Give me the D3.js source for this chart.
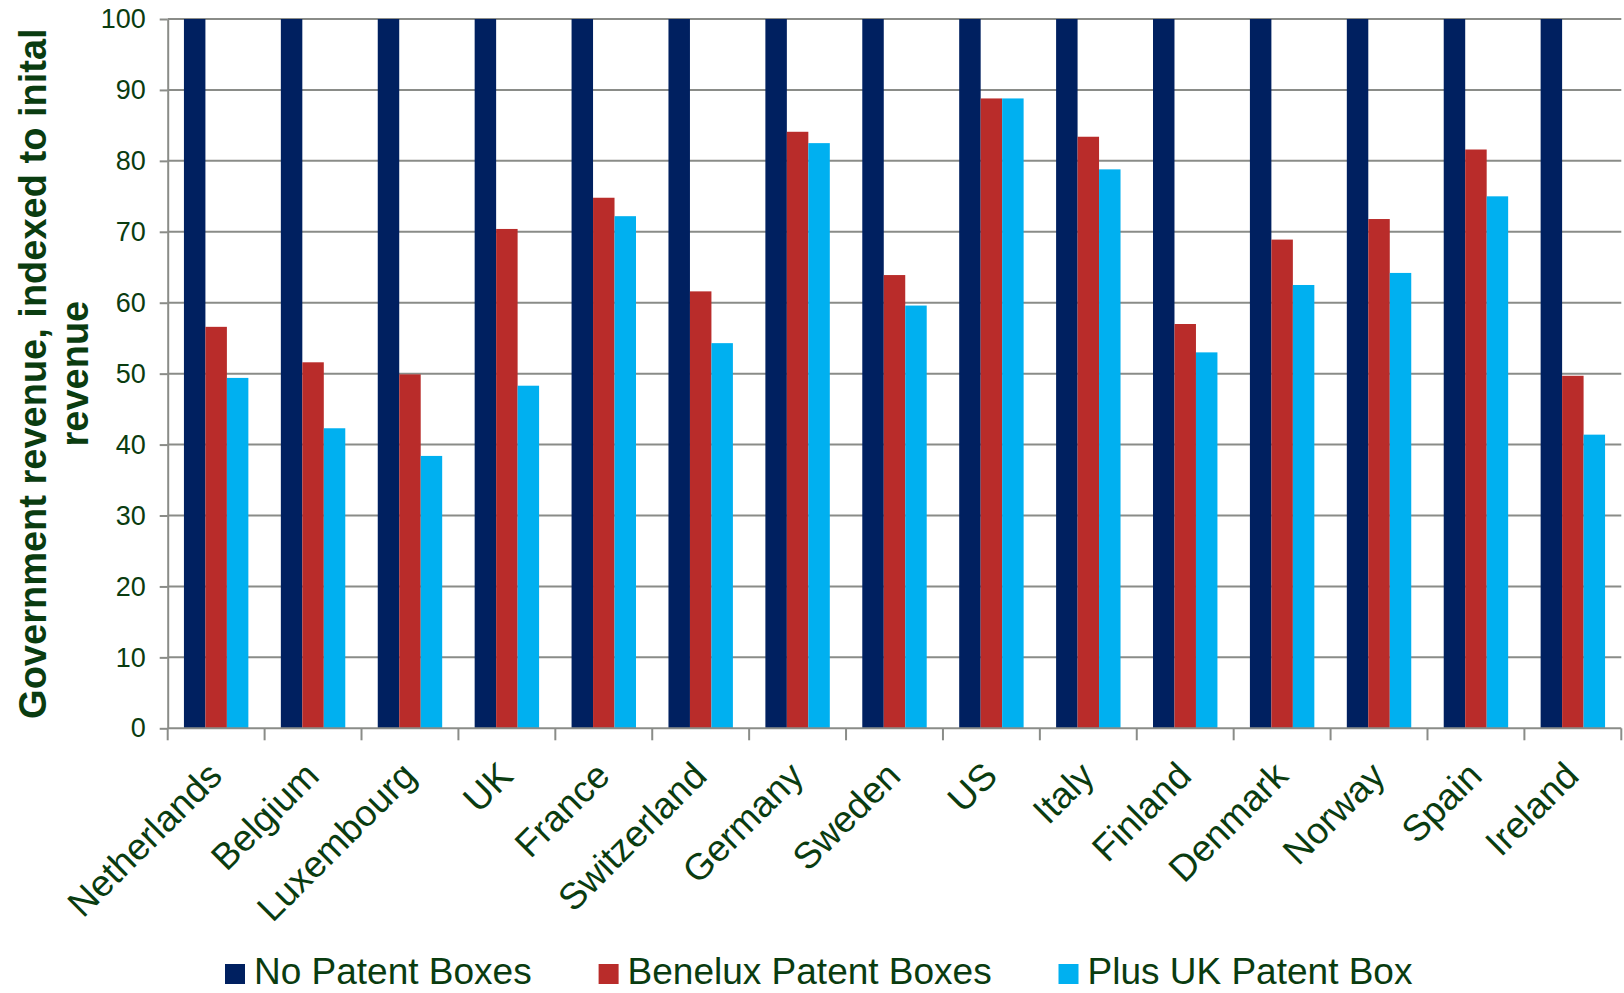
<!DOCTYPE html>
<html>
<head>
<meta charset="utf-8">
<script src="https://cdn.jsdelivr.net/npm/d3@7"></script>
<style>
  html, body { margin: 0; padding: 0; background: #fff; }
  svg { display: block; font-family: Arial, "Liberation Sans", sans-serif; }
</style>
</head>
<body>
<svg id="chart" width="1624" height="993"></svg>
<script>
// chart data
const countries = ["Netherlands", "Belgium", "Luxembourg", "UK", "France", "Switzerland", "Germany",
	"Sweden", "US", "Italy", "Finland", "Denmark", "Norway", "Spain", "Ireland"];
const seriesNames = ["No Patent Boxes", "Benelux Patent Boxes", "Plus UK Patent Box"];
const noPatentBoxes = [100, 100, 100, 100, 100, 100, 100, 100, 100, 100, 100, 100, 100, 100, 100];
const beneluxBoxes = [56.6, 51.6, 49.9, 70.4, 74.8, 61.6, 84.1, 63.9, 88.8, 83.4, 57.0, 68.9, 71.8, 81.6, 49.7];
const plusUKBox = [49.4, 42.3, 38.4, 48.3, 72.2, 54.3, 82.5, 59.6, 88.8, 78.8, 53.0, 62.5, 64.2, 75.0, 41.4];
const yTicks = [0, 10, 20, 30, 40, 50, 60, 70, 80, 90, 100];
const colors = ["#002060", "#b92c2a", "#00b0f0"];

const textColor = "#0a3c10";
const gridColor = "#8a8c88";

const rows = countries.map((c, i) => ({
	country: c,
	values: [noPatentBoxes[i], beneluxBoxes[i], plusUKBox[i]]
}));

const svg = d3.select("#chart");
const plot = { left: 167.7, right: 1621.3, top: 19, bottom: 728.3 };

const x0 = d3.scaleBand().domain(countries).range([plot.left, plot.right]).padding(0);
const x1 = d3.scaleBand().domain(d3.range(3)).range([0, x0.bandwidth()])
	.paddingInner(0).paddingOuter(0.756);
const y = d3.scaleLinear().domain([0, 100]).range([plot.bottom, plot.top]);

// gridlines
svg.append("g")
	.selectAll("line")
	.data(yTicks.filter(t => t > 0))
	.join("line")
	.attr("x1", plot.left).attr("x2", plot.right)
	.attr("y1", d => y(d)).attr("y2", d => y(d))
	.attr("stroke", gridColor).attr("stroke-width", 2);

// bars
svg.append("g")
	.selectAll("g")
	.data(rows)
	.join("g")
	.attr("transform", d => `translate(${x0(d.country)},0)`)
	.selectAll("rect")
	.data(d => d.values.map((v, i) => ({ v, i })))
	.join("rect")
	.attr("x", d => x1(d.i))
	.attr("width", x1.bandwidth())
	.attr("y", d => y(d.v))
	.attr("height", d => y(0) - y(d.v))
	.attr("fill", d => colors[d.i]);

// y axis
const yAxis = svg.append("g")
	.attr("transform", `translate(${plot.left},0)`)
	.call(d3.axisLeft(y).tickValues(yTicks).tickSize(8).tickPadding(14).tickSizeOuter(0));
yAxis.select(".domain").attr("stroke", gridColor).attr("stroke-width", 2);
yAxis.selectAll(".tick line").attr("stroke", gridColor).attr("stroke-width", 2);
yAxis.selectAll(".tick text")
	.attr("fill", textColor)
	.style("font-size", "27px")
	.style("font-family", "Arial, 'Liberation Sans', sans-serif");

// x axis line with ticks at category boundaries
const xAxis = svg.append("g");
xAxis.append("line")
	.attr("x1", plot.left).attr("x2", plot.right)
	.attr("y1", y(0)).attr("y2", y(0))
	.attr("stroke", gridColor).attr("stroke-width", 2);
xAxis.selectAll("line.bound")
	.data(countries.map(c => x0(c)).concat([x0.range()[1]]))
	.join("line")
	.attr("class", "bound")
	.attr("x1", d => d).attr("x2", d => d)
	.attr("y1", y(0)).attr("y2", y(0) + 12)
	.attr("stroke", gridColor).attr("stroke-width", 2);

xAxis.selectAll("text")
	.data(countries)
	.join("text")
	.attr("transform", d => `translate(${x0(d) + x0.bandwidth() / 2 + 8},778) rotate(-45)`)
	.attr("text-anchor", "end")
	.attr("fill", textColor)
	.style("font-size", "37px")
	.text(d => d);

// y title
const title = svg.append("g").attr("fill", textColor)
	.style("font-size", "38px").style("font-weight", "bold");
title.append("text")
	.attr("transform", `translate(46,${(plot.top + plot.bottom) / 2}) rotate(-90)`)
	.attr("text-anchor", "middle")
	.text("Government revenue, indexed to inital");
title.append("text")
	.attr("transform", `translate(88,${(plot.top + plot.bottom) / 2}) rotate(-90)`)
	.attr("text-anchor", "middle")
	.text("revenue");

// legend
const legendX = [225, 598.6, 1058.5];
const legend = svg.append("g").selectAll("g")
	.data(seriesNames)
	.join("g")
	.attr("transform", (d, i) => `translate(${legendX[i]},0)`);
legend.append("rect")
	.attr("x", 0).attr("y", 964)
	.attr("width", 20).attr("height", 20)
	.attr("fill", (d, i) => colors[i]);
legend.append("text")
	.attr("x", 29).attr("y", 984)
	.attr("fill", textColor)
	.style("font-size", "37px")
	.text(d => d);
</script>
</body>
</html>
